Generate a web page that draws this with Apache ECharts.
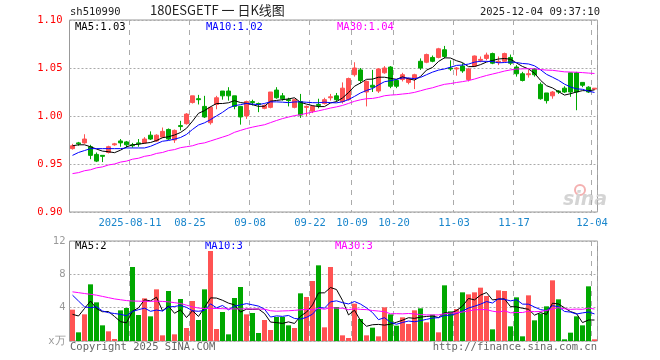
<!DOCTYPE html>
<html><head><meta charset="utf-8">
<script src="https://cdn.jsdelivr.net/npm/echarts@6/dist/echarts.min.js"></script>
<style>html,body{margin:0;padding:0;background:#fff}#c{width:660px;height:360px}</style>
</head><body><div id="c"></div>
<script>
const dates = ['2025-07-28','2025-07-29','2025-07-30','2025-07-31','2025-08-01','2025-08-04','2025-08-05','2025-08-06','2025-08-07','2025-08-08',
'2025-08-11','2025-08-12','2025-08-13','2025-08-14','2025-08-15','2025-08-18','2025-08-19','2025-08-20','2025-08-21','2025-08-22',
'2025-08-25','2025-08-26','2025-08-27','2025-08-28','2025-08-29','2025-09-01','2025-09-02','2025-09-03','2025-09-04','2025-09-05',
'2025-09-08','2025-09-09','2025-09-10','2025-09-11','2025-09-12','2025-09-15','2025-09-16','2025-09-17','2025-09-18','2025-09-19',
'2025-09-22','2025-09-23','2025-09-24','2025-09-25','2025-09-26','2025-09-29','2025-09-30','2025-10-09','2025-10-10','2025-10-13',
'2025-10-14','2025-10-15','2025-10-16','2025-10-17','2025-10-20','2025-10-21','2025-10-22','2025-10-23','2025-10-24','2025-10-27',
'2025-10-28','2025-10-29','2025-10-30','2025-10-31','2025-11-03','2025-11-04','2025-11-05','2025-11-06','2025-11-07','2025-11-10',
'2025-11-11','2025-11-12','2025-11-13','2025-11-14','2025-11-17','2025-11-18','2025-11-19','2025-11-20','2025-11-21','2025-11-24',
'2025-11-25','2025-11-26','2025-11-27','2025-11-28','2025-12-01','2025-12-02','2025-12-03','2025-12-04'];

const openP = [0.966,0.972,0.972,0.968,0.960,0.959,0.962,0.970,0.974,0.973,
0.970,0.972,0.972,0.980,0.974,0.978,0.986,0.975,0.990,0.992,
1.014,1.018,1.010,0.993,1.012,1.026,1.026,1.021,1.010,1.000,
1.015,1.013,1.008,1.009,1.027,1.021,1.017,1.009,1.015,1.009,
1.005,1.012,1.013,1.019,1.021,1.015,1.017,1.043,1.048,1.025,
1.032,1.026,1.045,1.051,1.037,1.038,1.035,1.039,1.057,1.056,
1.061,1.061,1.069,1.050,1.049,1.052,1.038,1.052,1.058,1.060,
1.065,1.056,1.057,1.061,1.051,1.044,1.043,1.049,1.033,1.024,
1.021,1.026,1.029,1.045,1.045,1.035,1.030,1.028];
const closeP = [0.969,0.971,0.976,0.959,0.953,0.958,0.968,0.971,0.972,0.970,
0.969,0.971,0.976,0.976,0.980,0.984,0.976,0.985,0.989,1.002,
1.021,1.017,0.999,1.009,1.019,1.021,1.021,1.010,0.999,1.015,
1.014,1.012,1.011,1.025,1.019,1.018,1.016,1.017,1.001,1.010,
1.010,1.011,1.017,1.020,1.017,1.029,1.039,1.050,1.037,1.036,
1.030,1.049,1.050,1.031,1.031,1.043,1.039,1.043,1.050,1.064,
1.057,1.070,1.062,1.049,1.050,1.047,1.049,1.0625,1.059,1.0635,
1.055,1.057,1.065,1.055,1.044,1.037,1.044,1.043,1.018,1.016,
1.025,1.025,1.025,1.025,1.025,1.032,1.025,1.029];
const lowP = [0.965,0.969,0.971,0.955,0.952,0.952,0.961,0.969,0.968,0.967,
0.967,0.968,0.971,0.975,0.973,0.977,0.975,0.972,0.985,0.991,
1.013,1.012,0.998,0.991,1.007,1.017,1.016,1.007,0.991,0.997,
1.011,1.004,1.007,1.008,1.018,1.016,1.010,1.008,0.998,1.000,
1.003,1.008,1.012,1.016,1.015,1.013,1.016,1.041,1.034,1.010,
1.025,1.024,1.044,1.029,1.029,1.036,1.033,1.028,1.048,1.055,
1.056,1.060,1.060,1.047,1.042,1.045,1.036,1.051,1.056,1.058,
1.054,1.053,1.056,1.053,1.041,1.036,1.040,1.041,1.017,1.013,
1.018,1.023,1.024,1.020,1.006,1.030,1.024,1.027];
const highP = [0.971,0.973,0.981,0.970,0.962,0.959,0.969,0.972,0.976,0.974,
0.972,0.976,0.978,0.984,0.981,0.988,0.987,0.986,0.995,1.003,
1.021,1.022,1.021,1.010,1.021,1.026,1.030,1.021,1.010,1.016,
1.017,1.014,1.012,1.025,1.030,1.024,1.019,1.018,1.023,1.011,
1.011,1.018,1.019,1.023,1.024,1.035,1.040,1.056,1.050,1.037,
1.048,1.050,1.052,1.052,1.038,1.045,1.040,1.044,1.060,1.065,
1.063,1.071,1.073,1.058,1.051,1.055,1.050,1.063,1.062,1.066,
1.066,1.062,1.066,1.064,1.053,1.046,1.048,1.050,1.035,1.024,
1.026,1.027,1.031,1.045,1.046,1.035,1.031,1.029];

const ma5 = [0.969,0.970,0.970,0.968,0.9656,0.9634,0.9628,0.9618,0.9644,0.9678,
0.970,0.9706,0.9716,0.9724,0.9744,0.9774,0.9784,0.9802,0.9828,0.9872,
0.9946,1.0028,1.0056,1.0096,1.013,1.013,1.0138,1.016,1.014,1.0132,
1.0118,1.010,1.0102,1.0154,1.0162,1.017,1.0178,1.019,1.0142,1.0124,
1.0108,1.0098,1.0098,1.0136,1.015,1.0188,1.0244,1.031,1.0344,1.0382,
1.0384,1.0404,1.0404,1.0392,1.0382,1.0408,1.0388,1.0374,1.0412,1.0478,
1.0506,1.0568,1.0606,1.0604,1.0576,1.0556,1.0514,1.0515,1.0535,1.0562,
1.0578,1.0594,1.0599,1.0591,1.0552,1.0516,1.049,1.0446,1.0372,1.0316,
1.0292,1.0254,1.0218,1.0232,1.025,1.0264,1.0264,1.0272];
const ma10 = [0.959,0.962,0.964,0.966,0.966,0.966,0.966,0.966,0.966,0.9667,
0.9667,0.9667,0.9667,0.9684,0.9711,0.9737,0.9745,0.9759,0.9776,0.9808,
0.986,0.9906,0.9929,0.9962,1.0001,1.0038,1.0083,1.0108,1.0118,1.0131,
1.0124,1.0119,1.0131,1.0147,1.0147,1.0144,1.0139,1.0146,1.0148,1.0143,
1.0139,1.0138,1.0144,1.0139,1.0137,1.0148,1.0171,1.0204,1.024,1.0266,
1.0286,1.0324,1.0357,1.0368,1.0382,1.0396,1.0396,1.0389,1.0402,1.043,
1.0457,1.0478,1.049,1.0508,1.0527,1.0531,1.0541,1.0561,1.057,1.0569,
1.0567,1.0554,1.0557,1.0563,1.0557,1.0547,1.0542,1.0523,1.0482,1.0434,
1.0404,1.0372,1.0332,1.0302,1.0283,1.0278,1.0259,1.0245];
const ma30 = [0.940,0.941,0.943,0.944,0.946,0.947,0.949,0.950,0.952,0.953,
0.955,0.956,0.958,0.959,0.961,0.962,0.964,0.965,0.967,0.968,
0.969,0.971,0.972,0.974,0.976,0.978,0.980,0.983,0.985,0.9869,
0.9884,0.9897,0.9909,0.9931,0.9953,0.9973,0.9989,1.0004,1.0014,1.0027,
1.0041,1.0054,1.0068,1.0083,1.0095,1.011,1.0131,1.0153,1.0169,1.018,
1.0183,1.0194,1.0211,1.0218,1.0222,1.0229,1.0235,1.0246,1.0263,1.028,
1.0294,1.0313,1.033,1.0338,1.0349,1.0358,1.0369,1.0385,1.0404,1.0422,
1.0437,1.0452,1.0468,1.048,1.0489,1.0491,1.0493,1.0491,1.0484,1.0478,
1.0476,1.0468,1.046,1.0458,1.0456,1.0452,1.0447,1.0443];

const vol = [3.76,1.04,3.2,6.8,4.64,1.88,1.16,0.24,3.68,3.96,
8.88,3.12,5.12,2.96,6.2,0.68,6.0,0.8,5.04,1.56,
4.8,2.52,6.2,10.8,1.44,3.48,0.8,5.16,6.48,3.2,
3.36,0.96,2.52,1.32,2.88,2.88,1.88,1.56,5.72,5.28,
7.2,9.08,1.64,8.88,4.08,0.68,0.36,4.48,2.64,0.68,
1.6,0.56,4.04,3.2,1.84,2.84,2.04,3.68,3.92,2.24,
3.16,1.04,6.68,3.56,3.84,5.84,5.6,5.84,6.4,5.4,
1.4,6.08,6.0,1.76,5.24,0.56,5.48,2.48,3.28,4.16,
7.28,5.0,0.2,1.0,2.96,1.88,6.56,0.2];
const vma5 = [3.2,3.0,3.9,4.8,3.888,3.512,3.536,2.944,2.32,2.184,
3.584,3.976,4.952,4.808,5.256,3.616,4.192,3.328,3.744,2.816,
3.64,2.944,4.024,5.176,5.152,4.888,4.544,4.336,3.472,3.824,
3.8,3.832,3.304,2.272,2.208,2.112,2.296,2.104,2.984,3.464,
4.328,5.768,5.784,6.416,6.176,4.872,3.128,3.696,2.448,1.768,
1.952,1.992,1.904,2.016,2.248,2.496,2.792,2.72,2.864,2.944,
3.008,2.808,3.408,3.336,3.656,4.192,5.104,4.936,5.504,5.816,
4.928,5.024,5.056,4.128,4.096,3.928,3.808,3.104,3.408,3.192,
4.536,4.44,3.984,3.528,3.288,2.208,2.52,2.52];
const vma10 = [5.5,4.8,4.1,4.0,4.1,3.6,3.4,3.3,3.2,3.036,
3.548,3.756,3.948,3.564,3.72,3.6,4.084,4.14,4.276,4.036,
3.628,3.568,3.676,4.46,3.984,4.264,3.744,4.18,4.324,4.488,
4.344,4.188,3.82,2.872,3.016,2.956,3.064,2.704,2.628,2.836,
3.22,4.032,3.944,4.7,4.82,4.6,4.448,4.74,4.432,3.972,
3.412,2.56,2.8,2.232,2.008,2.224,2.392,2.312,2.44,2.596,
2.752,2.8,3.064,3.1,3.3,3.6,3.956,4.172,4.42,4.736,
4.56,5.064,4.996,4.816,4.956,4.428,4.416,4.08,3.768,3.644,
4.232,4.124,3.544,3.468,3.24,3.372,3.48,3.252];
const vma30 = [5.9,5.8,5.7,5.6,5.5,5.35,5.2,5.05,4.95,4.85,
4.8,4.78,4.76,4.76,4.78,4.75,4.7,4.6,4.5,4.3,
4.1,3.95,3.9,3.92,3.9,3.88,3.85,3.85,3.85,3.853,
3.84,3.837,3.815,3.632,3.573,3.607,3.631,3.675,3.743,3.787,
3.731,3.929,3.813,4.011,3.94,3.94,3.752,3.875,3.795,3.765,
3.659,3.593,3.521,3.268,3.281,3.26,3.301,3.252,3.167,3.135,
3.128,3.131,3.269,3.344,3.376,3.475,3.599,3.741,3.764,3.768,
3.575,3.475,3.62,3.383,3.421,3.417,3.588,3.521,3.543,3.659,
3.848,3.996,3.868,3.795,3.832,3.8,3.951,3.835];

const tickDates = ['2025-08-11','2025-08-25','2025-09-08','2025-09-22','2025-10-09','2025-10-20','2025-11-03','2025-11-17','2025-12-04'];

const RED = '#ff5353', GREEN = '#00a800';
const MONO = '"DejaVu Sans Mono", "Liberation Mono", monospace';
const FS = 10.5;
const isTick = (i, v) => tickDates.indexOf(v) >= 0;

const chart = echarts.init(document.getElementById('c'), null, {renderer: 'canvas'});
const candleData = dates.map((d, i) => [openP[i], closeP[i], lowP[i], highP[i]]);
const volData = vol.map((v, i) => ({value: v, itemStyle: {color: closeP[i] >= openP[i] ? RED : GREEN}}));

const xCommon = {
  type: 'category', data: dates, boundaryGap: true,
  axisLine: {show: false}, axisTick: {show: false},
  splitLine: {show: true, interval: isTick, lineStyle: {color: '#aaa', type: [5, 5], width: 1}}
};
const gridStyle = {show: true, borderColor: '#999', borderWidth: 1, backgroundColor: 'transparent'};

chart.setOption({
  animation: false,
  backgroundColor: '#fff',
  grid: [
    Object.assign({left: 69.5, top: 20, width: 528, height: 192}, gridStyle),
    Object.assign({left: 69.5, top: 241, width: 528, height: 100}, gridStyle)
  ],
  xAxis: [
    Object.assign({}, xCommon, {gridIndex: 0,
      axisLabel: {show: true, interval: isTick, color: '#1a86cc', fontFamily: MONO, fontSize: FS, margin: 6,
        padding: [0, 5, 0, 0],
        formatter: v => v === tickDates[0] ? v : v.slice(5)}}),
    Object.assign({}, xCommon, {gridIndex: 1, axisLabel: {show: false}})
  ],
  yAxis: [
    {gridIndex: 0, type: 'value', min: 0.9, max: 1.1, interval: 0.05,
      axisLine: {show: false}, axisTick: {show: false},
      axisLabel: {color: '#ff0000', fontFamily: MONO, fontSize: FS, margin: 7, formatter: v => v.toFixed(2)},
      splitLine: {show: true, lineStyle: {color: '#aaa', type: [2, 2]}}},
    {gridIndex: 1, type: 'value', min: 0, max: 12, interval: 4,
      axisLine: {show: false}, axisTick: {show: false},
      axisLabel: {color: '#999', fontFamily: MONO, fontSize: FS, margin: 4, formatter: v => v === 0 ? 'x万' : String(v)},
      splitLine: {show: true, lineStyle: {color: '#aaa', type: [2, 2]}}}
  ],
  series: [
    {type: 'candlestick', xAxisIndex: 0, yAxisIndex: 0, data: candleData, barWidth: 4,
      itemStyle: {color: RED, color0: GREEN, borderColor: RED, borderColor0: GREEN, borderWidth: 1}},
    {type: 'line', xAxisIndex: 0, yAxisIndex: 0, data: ma5, symbol: 'none', lineStyle: {color: '#000', width: 1}},
    {type: 'line', xAxisIndex: 0, yAxisIndex: 0, data: ma10, symbol: 'none', lineStyle: {color: '#0000ff', width: 1}},
    {type: 'line', xAxisIndex: 0, yAxisIndex: 0, data: ma30, symbol: 'none', lineStyle: {color: '#ff00ff', width: 1}},
    {type: 'bar', xAxisIndex: 1, yAxisIndex: 1, data: volData, barWidth: 5},
    {type: 'line', xAxisIndex: 1, yAxisIndex: 1, data: vma5, symbol: 'none', lineStyle: {color: '#000', width: 1}},
    {type: 'line', xAxisIndex: 1, yAxisIndex: 1, data: vma10, symbol: 'none', lineStyle: {color: '#0000ff', width: 1}},
    {type: 'line', xAxisIndex: 1, yAxisIndex: 1, data: vma30, symbol: 'none', lineStyle: {color: '#ff00ff', width: 1}}
  ],
  graphic: [
    {type: 'text', left: 70, top: 7, style: {text: 'sh510990', fill: '#222', font: FS + 'px ' + MONO}},
    {type: 'text', left: 150, top: 4, style: {text: '180ESGETF 一 日K线图', fill: '#222', font: '13px "Noto Sans CJK SC", sans-serif'}},
    {type: 'text', right: 60, top: 7, style: {text: '2025-12-04 09:37:10', fill: '#222', font: FS + 'px ' + MONO}},
    {type: 'text', left: 75, top: 22, style: {text: 'MA5:1.03', fill: '#000', font: FS + 'px ' + MONO}},
    {type: 'text', left: 206, top: 22, style: {text: 'MA10:1.02', fill: '#0000ff', font: FS + 'px ' + MONO}},
    {type: 'text', left: 337, top: 22, style: {text: 'MA30:1.04', fill: '#ff00ff', font: FS + 'px ' + MONO}},
    {type: 'text', left: 75, top: 241, style: {text: 'MA5:2', fill: '#000', font: FS + 'px ' + MONO}},
    {type: 'text', left: 205, top: 241, style: {text: 'MA10:3', fill: '#0000ff', font: FS + 'px ' + MONO}},
    {type: 'text', left: 335, top: 241, style: {text: 'MA30:3', fill: '#ff00ff', font: FS + 'px ' + MONO}},
    {type: 'text', left: 70, top: 342, style: {text: 'Copyright 2025 SINA.COM', fill: '#666', font: FS + 'px ' + MONO}},
    {type: 'text', right: 63, top: 342, style: {text: 'http://finance.sina.com.cn', fill: '#666', font: FS + 'px ' + MONO}},
    {type: 'circle', shape: {cx: 580, cy: 190, r: 5}, style: {fill: 'none', stroke: '#f4b0b0', lineWidth: 2}, silent: true},
    {type: 'text', left: 563, top: 191, style: {text: 'sina', fill: '#d4d4d4', font: 'italic bold 19px "DejaVu Sans", sans-serif'}, silent: true}
  ]
});
</script></body></html>
